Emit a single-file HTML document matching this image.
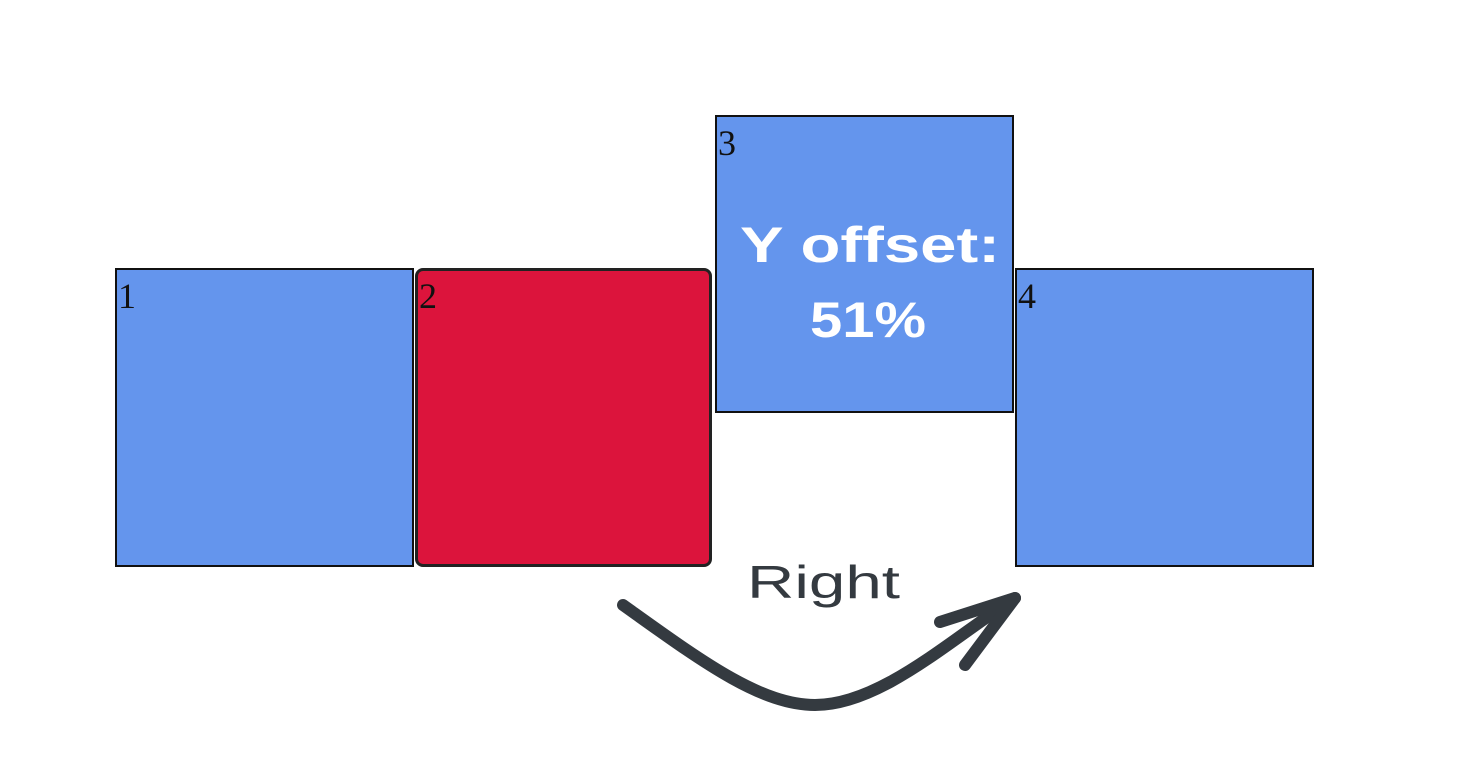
<!DOCTYPE html>
<html><head><style>
html,body{margin:0;padding:0;background:#fff;width:1470px;height:774px;overflow:hidden;position:relative;font-family:"Liberation Serif",serif}
.b{position:absolute;box-sizing:border-box;border:2px solid #111;background:#6495ED;font-size:36px;line-height:36px;color:#111;padding:8px 0 0 1px}
</style></head><body>
<div class="b" style="left:115px;top:268px;width:299px;height:299px">1</div>
<div class="b" style="left:415px;top:268px;width:297px;height:299px;background:#DC143C;border:3px solid #222;border-radius:8px;padding-left:1px;padding-top:7px">2</div>
<div class="b" style="left:715px;top:115px;width:299px;height:298px">3</div>
<div class="b" style="left:1015px;top:268px;width:299px;height:299px">4</div>
<svg width="1470" height="774" style="position:absolute;left:0;top:0">
<g fill="none" stroke="#343a40" stroke-width="12" stroke-linecap="round" stroke-linejoin="round">
<path d="M623 605 C700 660 760 705 815 705 C880 705 950 640 1015 598"/>
<path d="M940 622 L1015 598 L965 665"/>
</g>
<text x="747" y="598" font-family="Liberation Sans,sans-serif" font-size="46" fill="#343a40" textLength="153" lengthAdjust="spacingAndGlyphs">Right</text>
<text x="740" y="262" font-family="Liberation Sans,sans-serif" font-weight="bold" font-size="50" fill="#fff" textLength="260" lengthAdjust="spacingAndGlyphs">Y offset:</text>
<text x="810" y="337" font-family="Liberation Sans,sans-serif" font-weight="bold" font-size="50" fill="#fff" textLength="116" lengthAdjust="spacingAndGlyphs">51%</text>
</svg>
</body></html>
